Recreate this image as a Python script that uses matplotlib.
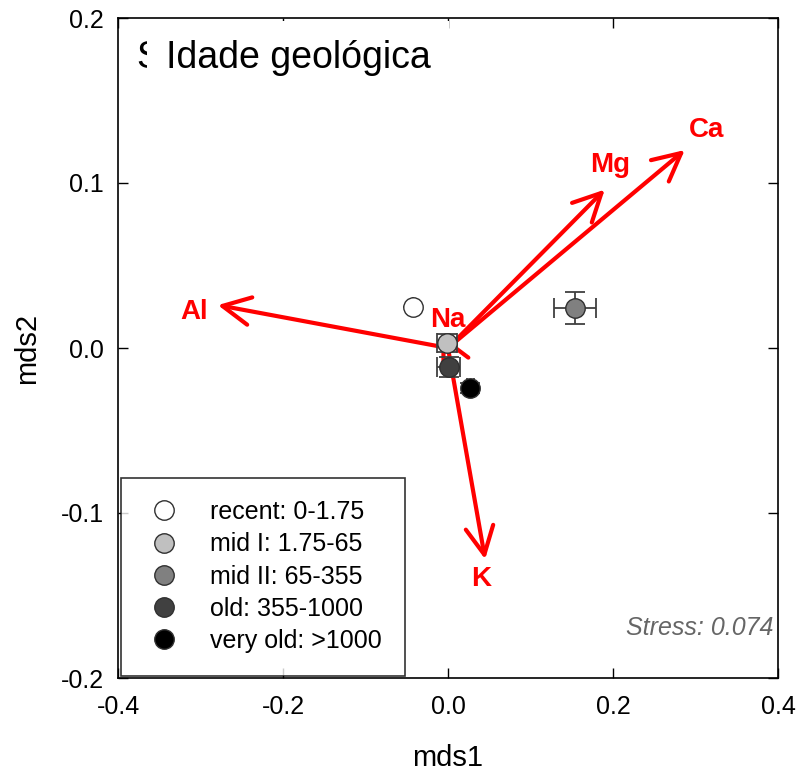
import matplotlib
matplotlib.use("Agg")
import matplotlib.pyplot as plt

plt.rcParams["font.family"] = ["Liberation Sans", "DejaVu Sans"]

# ======================================
# DATA
# ======================================

groups = ["recent: 0-1.75", "mid I: 1.75-65", "mid II: 65-355",
          "old: 355-1000", "very old: >1000"]
group_colors = ["white", "#c0c0c0", "#808080", "#404040", "black"]
cx = [-0.042, -0.001, 0.154, 0.001, 0.027]
cy = [0.025, 0.003, 0.024, -0.0115, -0.024]
ex = [0.0, 0.012, 0.025, 0.014, 0.004]
ey = [0.0, 0.0055, 0.0097, 0.006, 0.003]

elements = ["Al", "Ca", "Mg", "K", "Na"]
vx = [-0.279, 0.287, 0.190, 0.045, -0.008]
vy = [0.026, 0.120, 0.096, -0.128, 0.008]
lab_x = [-0.308, 0.314, 0.197, 0.040, 0.0]
lab_y = [0.022, 0.132, 0.111, -0.140, 0.017]

stress = 0.074

# ======================================
# PLOT
# ======================================

fig = plt.figure(figsize=(7.96, 7.76), dpi=100)
ax = fig.add_axes([118 / 796, 1 - 678 / 776, 660 / 796, 660 / 776])

# element vectors
for name, x, y, lx, ly in zip(elements, vx, vy, lab_x, lab_y):
    ax.annotate("", xy=(x, y), xytext=(0, 0),
                arrowprops=dict(arrowstyle="->,head_length=1.0,head_width=0.5",
                                color="red", lw=3.0, mutation_scale=20,
                                shrinkA=0, shrinkB=0),
                zorder=3)
    ax.text(lx, ly, name, color="red", fontsize=20, fontweight="bold",
            ha="center", va="center", zorder=6)

# group centroids with error bars
handles = []
for g, c, x, y, sx, sy in zip(groups, group_colors, cx, cy, ex, ey):
    ax.errorbar(x, y, xerr=sx, yerr=sy, fmt="none", ecolor="#404040",
                elinewidth=1.3, capsize=7, capthick=1.3, zorder=4)
    h, = ax.plot(x, y, "o", ms=14, mfc=c, mec="#303030", mew=1.0,
                 zorder=5, label=g)
    handles.append(h)

ax.set_xlim(-0.4, 0.4)
ax.set_ylim(-0.2, 0.2)
ax.set_xticks([-0.4, -0.2, 0.0, 0.2, 0.4])
ax.set_yticks([-0.2, -0.1, 0.0, 0.1, 0.2])
ax.set_xticklabels(["-0.4", "-0.2", "0.0", "0.2", "0.4"])
ax.set_yticklabels(["-0.2", "-0.1", "0.0", "0.1", "0.2"])
ax.tick_params(direction="in", length=7, width=1, labelsize=18,
               top=True, right=True, pad=12)
ax.tick_params(axis="y", pad=10)
for s in ax.spines.values():
    s.set_linewidth(1.2)

ax.set_xlabel("mds1", fontsize=21, labelpad=18)
ax.set_ylabel("mds2", fontsize=21, labelpad=14)

# title with a clipped letter behind it
ax.text(0.028, 0.94, "S", transform=ax.transAxes, fontsize=27,
        ha="left", va="center", zorder=1)
ax.text(0.072, 0.94, "Idade geológica", transform=ax.transAxes,
        fontsize=27, ha="left", va="center", zorder=2,
        bbox=dict(boxstyle="square,pad=0.5", fc="white", ec="none"))

ax.text(0.993, 0.076, "Stress: %.3f" % stress, transform=ax.transAxes,
        fontsize=18, style="italic", color="#666666", ha="right", va="center")

leg = ax.legend(handles=handles, loc="lower left", bbox_to_anchor=(0, 0),
                borderaxespad=0.1, frameon=True, fancybox=False,
                fontsize=18, borderpad=0.9, labelspacing=0.33,
                handletextpad=1.0, handlelength=1.7, numpoints=1)
leg.get_frame().set_edgecolor("black")
leg.get_frame().set_linewidth(1.2)
leg.set_zorder(7)

fig.savefig("out.png", dpi=100)
